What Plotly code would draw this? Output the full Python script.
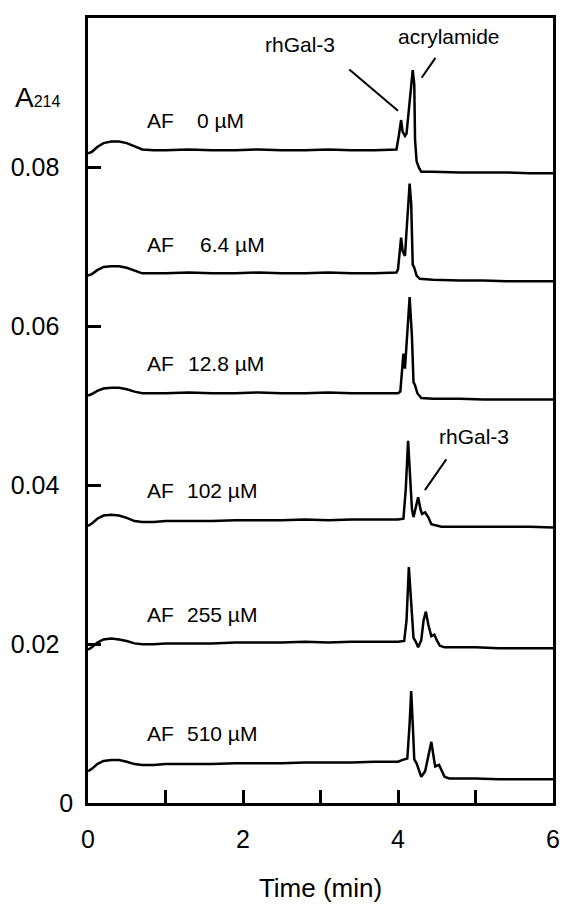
import plotly.graph_objects as go

# ---------------- data ----------------
labels_af = ["AF", "AF", "AF", "AF", "AF", "AF"]
labels_conc = ["0 µM", "6.4 µM", "12.8 µM", "102 µM", "255 µM", "510 µM"]

t_0 = [0, 0.05, 0.12, 0.2, 0.3, 0.4, 0.5, 0.6, 0.7, 0.85, 1.0, 1.3, 1.6, 1.9, 2.2, 2.5, 2.8, 3.1, 3.4, 3.7, 3.98,
       4.01, 4.04, 4.06, 4.09, 4.11, 4.13, 4.15, 4.19, 4.21, 4.22, 4.24, 4.27, 4.30, 4.45, 4.8, 5.1, 5.4, 5.7, 6.0]
a_0 = [0.0818, 0.0820, 0.0826, 0.0831, 0.0833, 0.0833, 0.0831, 0.0827, 0.0823, 0.0822, 0.0822, 0.0823, 0.0822, 0.0822,
       0.0823, 0.0822, 0.0822, 0.0823, 0.0822, 0.0822, 0.0823,
       0.0840, 0.0860, 0.0845, 0.0840, 0.0843, 0.0862, 0.0886, 0.0923, 0.0905, 0.0835, 0.0808, 0.0800, 0.0795, 0.0795,
       0.0794, 0.0794, 0.0794, 0.0793, 0.0793]

t_6 = [0, 0.05, 0.12, 0.2, 0.3, 0.4, 0.5, 0.6, 0.7, 0.85, 1.0, 1.3, 1.6, 1.9, 2.2, 2.5, 2.8, 3.1, 3.4, 3.7, 3.98,
       4.00, 4.03, 4.04, 4.06, 4.09, 4.11, 4.13, 4.15, 4.17, 4.18, 4.19, 4.21, 4.24, 4.28, 4.45, 4.8, 5.1, 5.4, 5.7, 6.0]
a_6 = [0.0664, 0.0666, 0.0671, 0.0675, 0.0676, 0.0676, 0.0674, 0.0670, 0.0667, 0.0667, 0.0667, 0.0668, 0.0667, 0.0667,
       0.0668, 0.0667, 0.0667, 0.0668, 0.0667, 0.0667, 0.0668,
       0.0672, 0.0705, 0.0712, 0.0695, 0.0689, 0.0720, 0.0755, 0.0780, 0.0755, 0.0720, 0.0678, 0.0674, 0.0664, 0.0660,
       0.0659, 0.0658, 0.0658, 0.0657, 0.0657, 0.0657]

t_12 = [0, 0.05, 0.12, 0.2, 0.3, 0.4, 0.5, 0.6, 0.7, 0.85, 1.0, 1.3, 1.6, 1.9, 2.2, 2.5, 2.8, 3.1, 3.4, 3.7, 4.0,
        4.03, 4.06, 4.07, 4.09, 4.11, 4.15, 4.18, 4.20, 4.22, 4.25, 4.30, 4.45, 4.8, 5.1, 5.4, 5.7, 6.0]
a_12 = [0.0513, 0.0515, 0.0519, 0.0522, 0.0523, 0.0523, 0.0521, 0.0518, 0.0516, 0.0516, 0.0516, 0.0517, 0.0516, 0.0516,
        0.0517, 0.0516, 0.0516, 0.0517, 0.0516, 0.0516, 0.0516,
        0.0518, 0.0562, 0.0566, 0.0547, 0.0578, 0.0637, 0.0587, 0.0530, 0.0526, 0.0516, 0.0510, 0.0509, 0.0509, 0.0508,
        0.0508, 0.0508, 0.0508]

t_102 = [0, 0.05, 0.12, 0.2, 0.3, 0.4, 0.5, 0.6, 0.7, 0.85, 1.0, 1.3, 1.6, 1.9, 2.2, 2.5, 2.8, 3.1, 3.4, 3.7, 4.0,
         4.07, 4.10, 4.13, 4.16, 4.18, 4.20, 4.23, 4.26, 4.29, 4.31, 4.35, 4.39, 4.43, 4.50, 4.56, 4.8, 5.1, 5.4, 5.7, 6.0]
a_102 = [0.0349, 0.0352, 0.0358, 0.0362, 0.0363, 0.0362, 0.0359, 0.0355, 0.0354, 0.0354, 0.0355, 0.0355, 0.0355, 0.0356,
         0.0356, 0.0356, 0.0357, 0.0356, 0.0357, 0.0357, 0.0357,
         0.0358, 0.0395, 0.0456, 0.0410, 0.0370, 0.0360, 0.0372, 0.0385, 0.0370, 0.0364, 0.0366, 0.0360, 0.0351, 0.0349,
         0.0348, 0.0348, 0.0348, 0.0348, 0.0348, 0.0347]

t_255 = [0, 0.05, 0.12, 0.2, 0.3, 0.4, 0.5, 0.6, 0.7, 0.85, 1.0, 1.3, 1.6, 1.9, 2.2, 2.5, 2.8, 3.1, 3.4, 3.7, 4.0,
         4.08, 4.11, 4.14, 4.17, 4.20, 4.23, 4.26, 4.30, 4.33, 4.36, 4.39, 4.43, 4.47, 4.50, 4.54, 4.60, 4.69, 5.0, 5.3,
         5.6, 6.0]
a_255 = [0.0193, 0.0196, 0.0202, 0.0206, 0.0207, 0.0206, 0.0204, 0.0201, 0.0200, 0.0200, 0.0201, 0.0201, 0.0201, 0.0202,
         0.0202, 0.0202, 0.0203, 0.0202, 0.0203, 0.0203, 0.0203,
         0.0204, 0.0230, 0.0297, 0.0250, 0.0208, 0.0203, 0.0196, 0.0205, 0.0230, 0.0241, 0.0225, 0.0210, 0.0212, 0.0205,
         0.0198, 0.0196, 0.0196, 0.0196, 0.0195, 0.0195, 0.0195]

t_510 = [0, 0.05, 0.12, 0.2, 0.3, 0.4, 0.5, 0.6, 0.7, 0.85, 1.0, 1.3, 1.6, 1.9, 2.2, 2.5, 2.8, 3.1, 3.4, 3.7, 4.0,
         4.05, 4.12, 4.15, 4.17, 4.19, 4.21, 4.24, 4.27, 4.30, 4.35, 4.40, 4.43, 4.46, 4.48, 4.53, 4.57, 4.60, 4.66, 4.73,
         5.0, 5.3, 5.6, 6.0]
a_510 = [0.0040, 0.0043, 0.0049, 0.0053, 0.0054, 0.0054, 0.0052, 0.0049, 0.0048, 0.0048, 0.0049, 0.0049, 0.0049, 0.0050,
         0.0050, 0.0050, 0.0051, 0.0051, 0.0051, 0.0052, 0.0052,
         0.0054, 0.0056, 0.0100, 0.0141, 0.0100, 0.0055, 0.0050, 0.0040, 0.0033, 0.0040, 0.0065, 0.0077, 0.0058, 0.0046,
         0.0048, 0.0040, 0.0033, 0.0031, 0.0031, 0.0031, 0.0030, 0.0030, 0.0030]

series_t = [t_0, t_6, t_12, t_102, t_255, t_510]
series_a = [a_0, a_6, a_12, a_102, a_255, a_510]

label_y = [0.0859, 0.0703, 0.0554, 0.0393, 0.0237, 0.0087]
conc_x = [1.383, 1.421, 1.268, 1.256, 1.256, 1.256]

x_ticks = [0, 1, 2, 3, 4, 5, 6]
x_ticktext = ["0", "", "2", "", "4", "", "6"]
y_ticks = [0, 0.02, 0.04, 0.06, 0.08]
y_ticktext = ["0", "0.02&nbsp;&nbsp;", "0.04&nbsp;&nbsp;", "0.06&nbsp;&nbsp;", "0.08&nbsp;&nbsp;"]

# ---------------- figure ----------------
FONT = "Liberation Sans, Arial, Helvetica, sans-serif"
INK = "#000000"

fig = go.Figure()
for tt, aa in zip(series_t, series_a):
    fig.add_trace(go.Scatter(x=tt, y=aa, mode="lines",
                             line=dict(color=INK, width=2.5), showlegend=False,
                             hoverinfo="skip"))

annotations = []
for af, conc, ly, cx in zip(labels_af, labels_conc, label_y, conc_x):
    annotations.append(dict(x=0.736, y=ly, xref="x", yref="y", text=af, showarrow=False,
                            xanchor="left", yanchor="middle", font=dict(size=21, color=INK, family=FONT)))
    annotations.append(dict(x=cx, y=ly, xref="x", yref="y", text=conc, showarrow=False,
                            xanchor="left", yanchor="middle", font=dict(size=21, color=INK, family=FONT)))

annotations += [
    dict(x=2.732, y=0.0955, xref="x", yref="y", text="rhGal-3", showarrow=False,
         font=dict(size=21, color=INK, family=FONT)),
    dict(x=4.662, y=0.0965, xref="x", yref="y", text="acrylamide", showarrow=False,
         font=dict(size=21, color=INK, family=FONT)),
    dict(x=4.983, y=0.0462, xref="x", yref="y", text="rhGal-3", showarrow=False,
         font=dict(size=21, color=INK, family=FONT)),
    dict(x=(12 - 88.3) / 471.7, y=0.0889, xref="paper", yref="y", xanchor="left",
         text="A<span style='font-size:16px'>214</span>",
         showarrow=False, font=dict(size=28, color=INK, family=FONT)),
]

shapes = [
    dict(type="line", xref="x", yref="y", x0=3.372, y0=0.09236, x1=4.000, y1=0.08716,
         line=dict(color=INK, width=2)),
    dict(type="line", xref="x", yref="y", x0=4.483, y0=0.09382, x1=4.305, y1=0.09133,
         line=dict(color=INK, width=2)),
    dict(type="line", xref="x", yref="y", x0=4.623, y0=0.04327, x1=4.347, y1=0.03940,
         line=dict(color=INK, width=2)),
]

fig.update_layout(
    width=565, height=904,
    margin=dict(l=88, r=5, t=18, b=94),
    paper_bgcolor="white", plot_bgcolor="white",
    font=dict(family=FONT, color=INK, size=25),
    annotations=annotations,
    shapes=shapes,
    showlegend=False,
)
fig.update_xaxes(range=[0, 6], tickvals=x_ticks, ticktext=x_ticktext,
                 ticks="inside", ticklen=13, tickwidth=2.5, tickcolor=INK,
                 showline=True, linewidth=2.5, linecolor=INK, mirror=True,
                 showgrid=False, zeroline=False, ticklabelstandoff=12,
                 tickfont=dict(size=25, family=FONT, color=INK),
                 title=dict(text="Time (min)", font=dict(size=26, family=FONT, color=INK), standoff=28))
fig.update_yaxes(range=[0, 0.09885], tickvals=y_ticks, ticktext=y_ticktext,
                 ticks="inside", ticklen=13, tickwidth=2.5, tickcolor=INK,
                 showline=True, linewidth=2.5, linecolor=INK, mirror=True,
                 showgrid=False, zeroline=False, ticklabelstandoff=7,
                 tickfont=dict(size=25, family=FONT, color=INK))

fig.write_html("out.html")
